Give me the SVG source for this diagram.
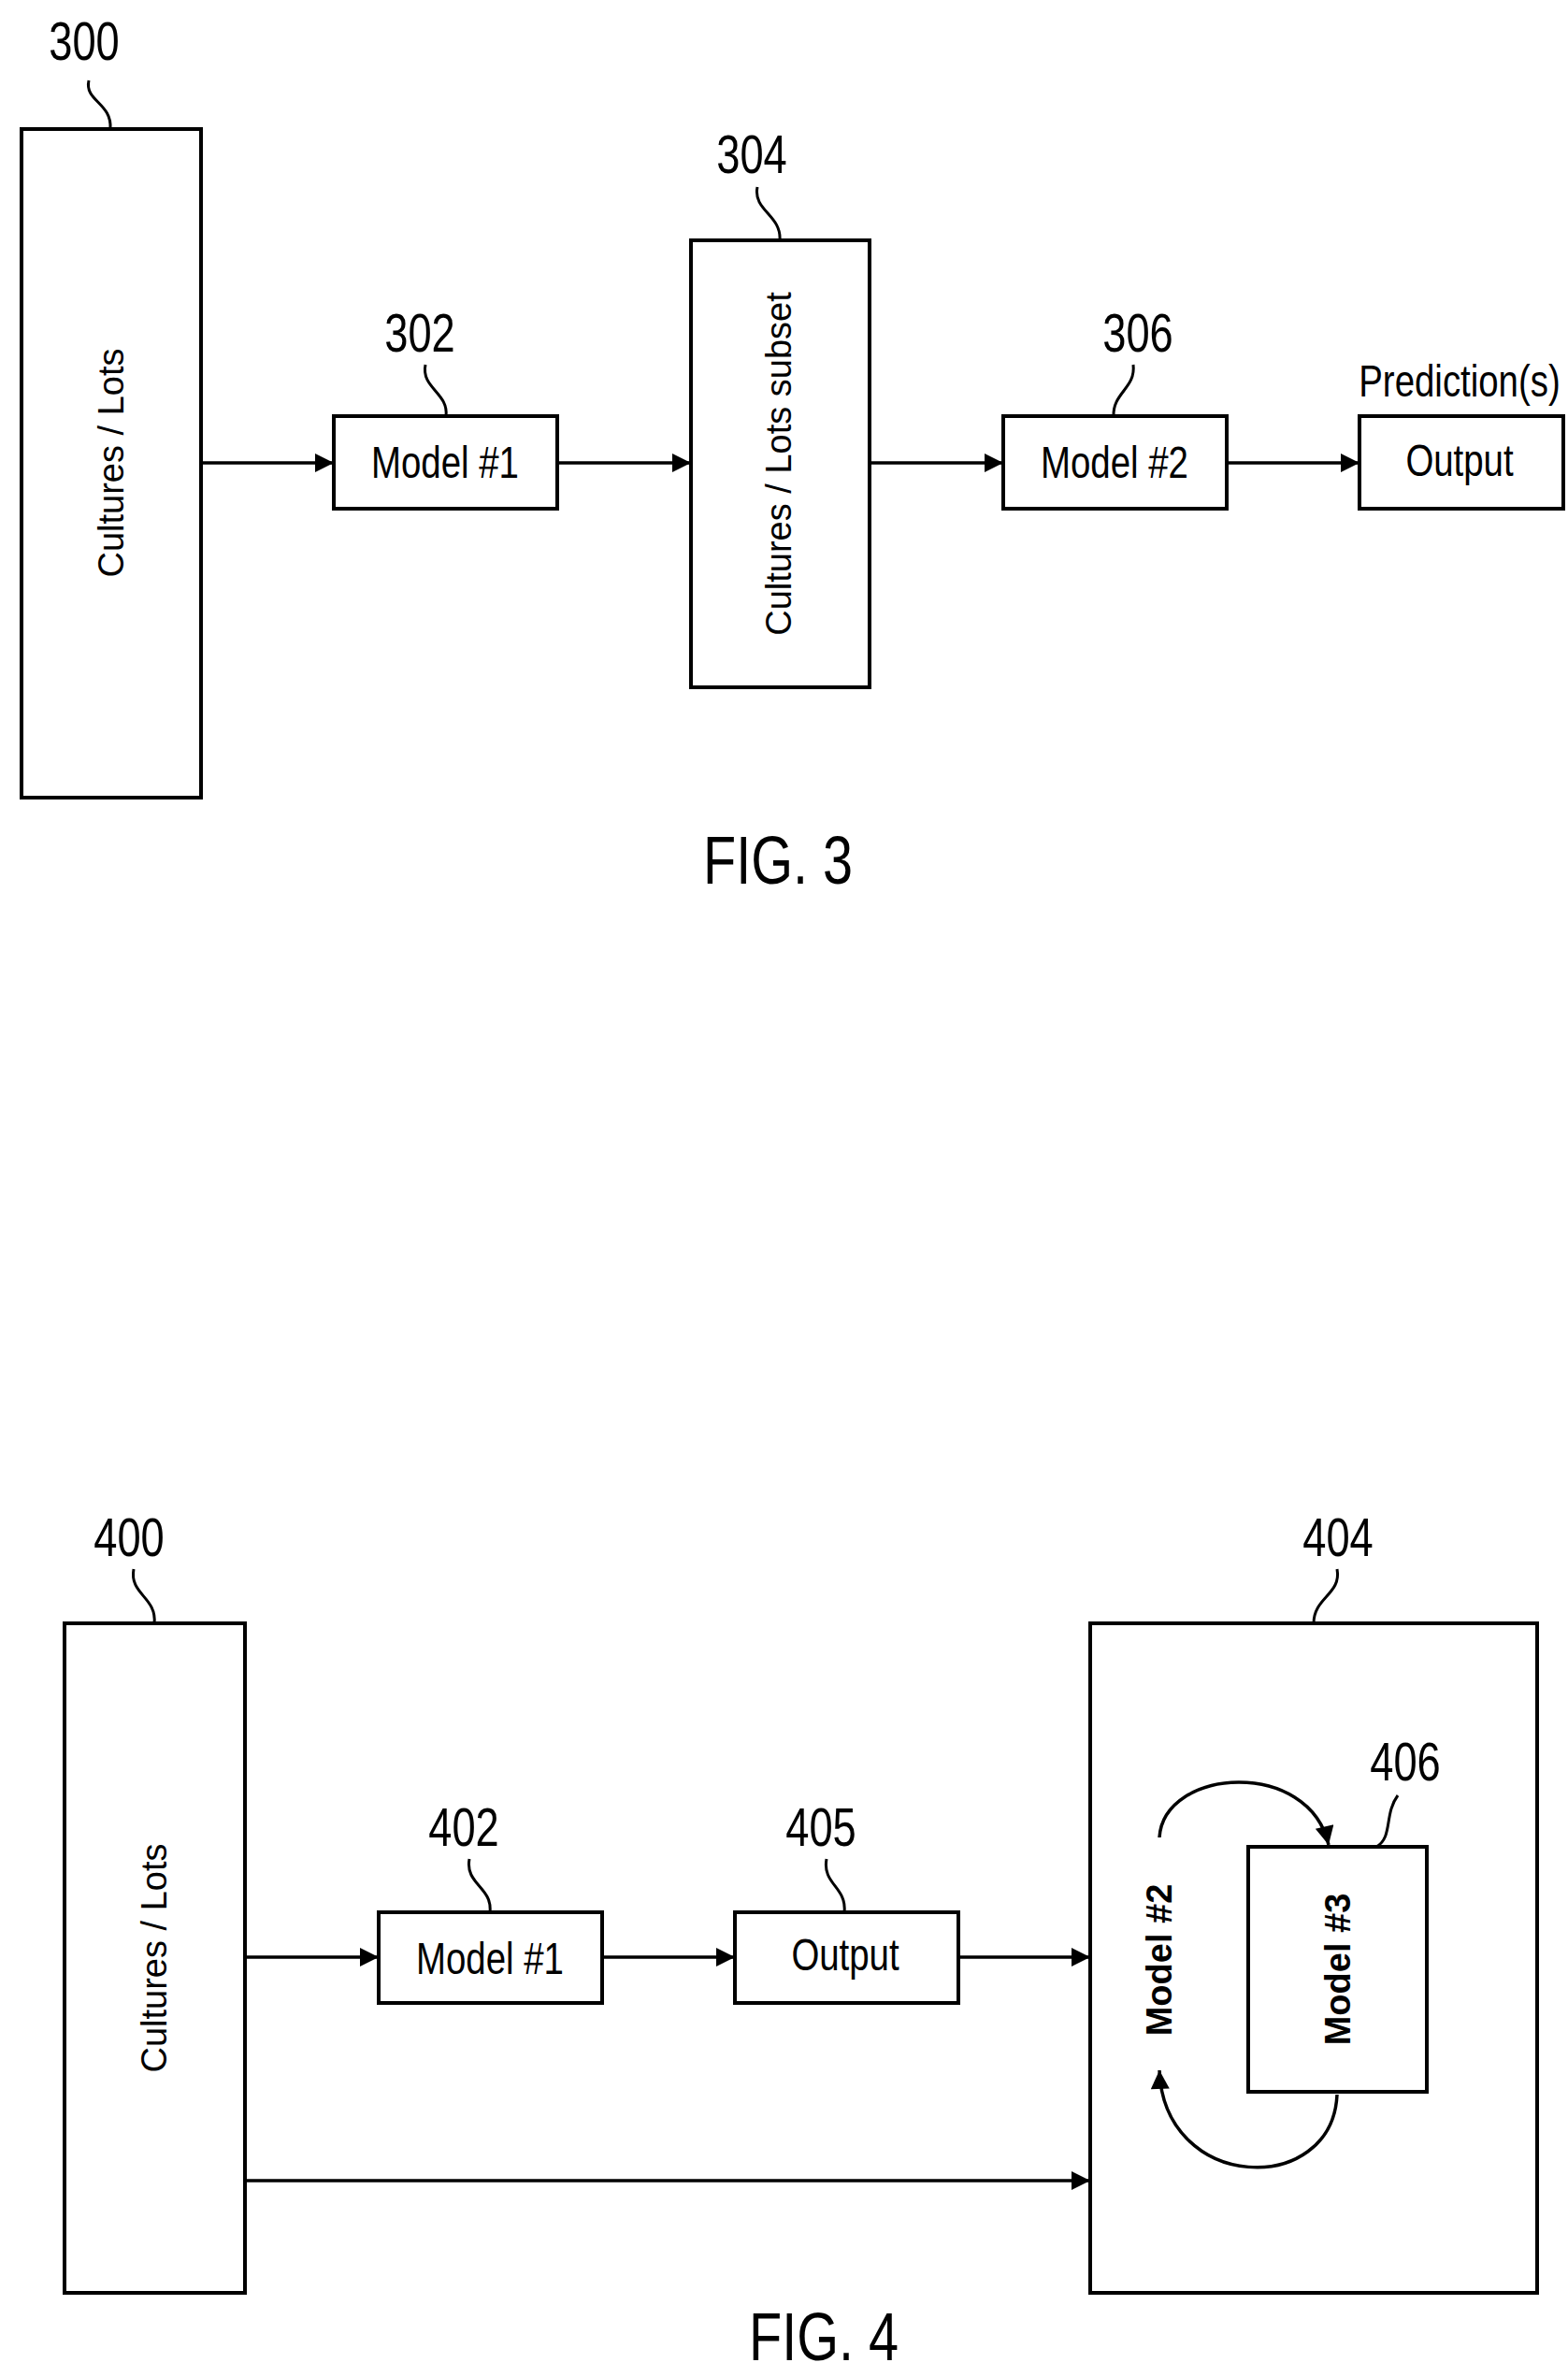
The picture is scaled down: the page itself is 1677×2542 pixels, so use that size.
<svg xmlns="http://www.w3.org/2000/svg" width="1677" height="2542" viewBox="0 0 1677 2542">
<style>
.b{fill:#fff;stroke:#000;stroke-width:4}
.l{fill:none;stroke:#000;stroke-width:3}
.c{stroke:#000;stroke-width:3.5;fill:none}
.n{font-family:"Liberation Sans",sans-serif;font-size:58px;text-anchor:middle}
.t{font-family:"Liberation Sans",sans-serif;font-size:48px;text-anchor:middle}
.r{font-family:"Liberation Sans",sans-serif;font-size:38px;text-anchor:middle}
.f{font-family:"Liberation Sans",sans-serif;font-size:72px;text-anchor:middle}
</style>
<defs><marker id="a" viewBox="0 0 10 10" refX="10" refY="5" markerWidth="26" markerHeight="20" markerUnits="userSpaceOnUse" orient="auto"><path d="M0,0L10,5L0,10z"/></marker></defs>
<g id="n300"><rect class="b" x="23" y="138" width="192" height="715"/><text class="r" transform="translate(132,495) rotate(-90)">Cultures / Lots</text><text class="n" transform="translate(90,64) scale(0.78,1)">300</text><path class="l" d="M95,86 C90,108 120,110 118,138"/></g>
<g id="n302"><rect class="b" x="357" y="445" width="239" height="99"/><text class="t" transform="translate(476,511) scale(0.8,1)">Model #1</text><text class="n" transform="translate(449,376) scale(0.78,1)">302</text><path class="l" d="M455,390 C450,415 480,420 477,445"/></g>
<g id="n304"><rect class="b" x="739" y="257" width="191" height="478"/><text class="r" transform="translate(846,496) rotate(-90)">Cultures / Lots subset</text><text class="n" transform="translate(804,185) scale(0.78,1)">304</text><path class="l" d="M810,200 C805,225 836,230 834,257"/></g>
<g id="n306"><rect class="b" x="1073" y="445" width="239" height="99"/><text class="t" transform="translate(1192,511) scale(0.8,1)">Model #2</text><text class="n" transform="translate(1217,376) scale(0.78,1)">306</text><path class="l" d="M1212,390 C1215,415 1190,420 1191,445"/></g>
<g id="nout3"><rect class="b" x="1454" y="445" width="218" height="99"/><text class="t" transform="translate(1561,509) scale(0.8,1)">Output</text><text class="t" transform="translate(1561,424) scale(0.8,1)">Prediction(s)</text></g>
<text class="f" transform="translate(832,945) scale(0.8,1)">FIG. 3</text>
<g id="n400"><rect class="b" x="69" y="1736" width="193" height="716"/><text class="r" transform="translate(178,2094) rotate(-90)">Cultures / Lots</text><text class="n" transform="translate(138,1664) scale(0.78,1)">400</text><path class="l" d="M143,1678 C138,1705 168,1708 165,1736"/></g>
<g id="n402"><rect class="b" x="405" y="2045" width="239" height="97"/><text class="t" transform="translate(524,2111) scale(0.8,1)">Model #1</text><text class="n" transform="translate(496,1974) scale(0.78,1)">402</text><path class="l" d="M502,1988 C497,2015 527,2018 524,2045"/></g>
<g id="n405"><rect class="b" x="786" y="2045" width="239" height="97"/><text class="t" transform="translate(904,2107) scale(0.8,1)">Output</text><text class="n" transform="translate(878,1974) scale(0.78,1)">405</text><path class="l" d="M884,1988 C879,2015 906,2018 903,2045"/></g>
<g id="n404"><rect class="b" x="1166" y="1736" width="478" height="716"/><text class="n" transform="translate(1431,1664) scale(0.78,1)">404</text><path class="l" d="M1430,1678 C1435,1705 1405,1708 1405,1736"/>
<text class="r" font-weight="bold" transform="translate(1253,2096) rotate(-90)">Model #2</text></g>
<g id="n406"><rect class="b" x="1335" y="1975" width="191" height="262"/><text class="r" font-weight="bold" transform="translate(1444,2106) rotate(-90)">Model #3</text><text class="n" transform="translate(1503,1904) scale(0.78,1)">406</text><path class="l" d="M1495,1920 C1480,1940 1490,1965 1472,1975"/></g>
<text class="f" transform="translate(881,2524) scale(0.8,1)">FIG. 4</text>
<g id="connectors">
<path class="c" marker-end="url(#a)" d="M215,495H357"/>
<path class="c" marker-end="url(#a)" d="M596,495H739"/>
<path class="c" marker-end="url(#a)" d="M930,495H1073"/>
<path class="c" marker-end="url(#a)" d="M1312,495H1454"/>
<path class="c" marker-end="url(#a)" d="M262,2093H405"/>
<path class="c" marker-end="url(#a)" d="M644,2093H786"/>
<path class="c" marker-end="url(#a)" d="M1025,2093H1166"/>
<path class="c" marker-end="url(#a)" d="M262,2332H1166"/>
<path class="c" marker-end="url(#a)" d="M1240,1965 C1245,1890 1400,1880 1421,1973"/>
<path class="c" marker-end="url(#a)" d="M1430,2240 C1425,2350 1245,2345 1240,2214"/>
</g>
</svg>
